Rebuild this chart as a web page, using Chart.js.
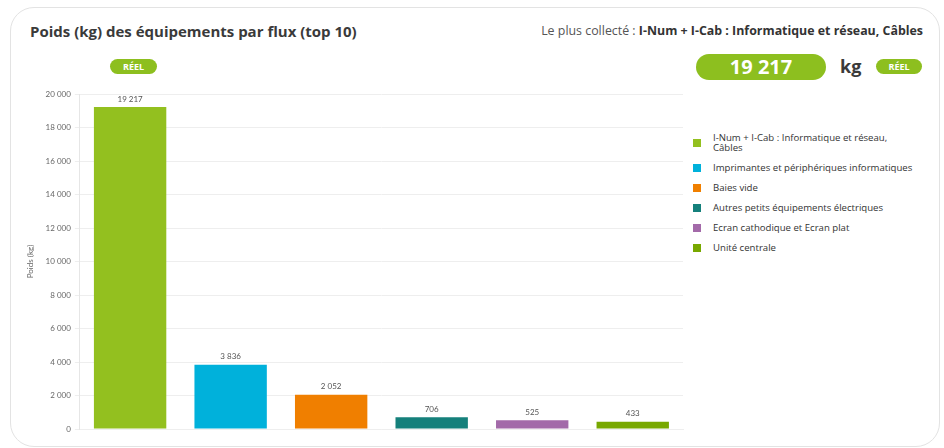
<!DOCTYPE html>
<html lang="fr">
<head>
<meta charset="utf-8">
<script src="https://cdn.jsdelivr.net/npm/chart.js@4.4.1/dist/chart.umd.min.js"></script>
<style>
  html, body { margin: 0; padding: 0; background: #ffffff; width: 944px; height: 448px; overflow: hidden; font-family: "Open Sans", "Lato", sans-serif; }
  #card { position: absolute; left: 10px; top: 7px; width: 930px; height: 440px; border: 1px solid #e3e3e3; border-radius: 24px; box-sizing: border-box; background: #fff; }
  #title { position: absolute; left: 30px; top: 21px; font-size: 15px; font-weight: 700; color: #3a3a3a; }
  #most { position: absolute; right: 21px; top: 22px; font-size: 12.4px; color: #555; }
  #most b { color: #333; font-weight: 700; }
  .pill { position: absolute; background: #8dbf1f; color: #fff; border-radius: 10px; font-weight: 700; font-size: 9px; text-align: center; }
  #pillL { left: 110px; top: 59px; width: 47px; height: 15px; line-height: 15px; }
  #pillR { left: 876px; top: 59px; width: 46px; height: 15px; line-height: 15px; }
  #big { left: 696px; top: 54px; width: 130px; height: 26px; line-height: 26px; font-size: 20px; border-radius: 14px; }
  #kg { position: absolute; left: 840px; top: 54px; font-size: 18px; font-weight: 700; color: #3a3a3a; }
  #legend { position: absolute; left: 692px; top: 133px; width: 240px; }
  .li { position: relative; padding-left: 21px; font-size: 9.6px; color: #333; line-height: 10px; margin-bottom: 10px; }
  .li span.sw { position: absolute; left: 1px; top: 50%; margin-top: -4px; width: 8px; height: 8px; }
  #cv { position: absolute; left: 0; top: 0; }
</style>
</head>
<body>
<div id="card"></div>
<div id="title">Poids (kg) des équipements par flux (top 10)</div>
<div id="most">Le plus collecté : <b>I-Num + I-Cab : Informatique et réseau, Câbles</b></div>
<div class="pill" id="pillL">RÉEL</div>
<div class="pill" id="big">19 217</div>
<div id="kg">kg</div>
<div class="pill" id="pillR">RÉEL</div>
<div id="legend"></div>
<canvas id="cv" width="944" height="448"></canvas>
<script>
const categories = [
  "I-Num + I-Cab : Informatique et réseau, Câbles",
  "Imprimantes et périphériques informatiques",
  "Baies vide",
  "Autres petits équipements électriques",
  "Ecran cathodique et Ecran plat",
  "Unité centrale"
];
const weights = [19217, 3836, 2052, 706, 525, 433];
const colors = ["#93c01f", "#00b1db", "#f07f00", "#15807b", "#a36aa9", "#78a800"];
const yTicks = [0, 2000, 4000, 6000, 8000, 10000, 12000, 14000, 16000, 18000, 20000];

function fmt(v) {
  return String(v).replace(/\B(?=(\d{3})+(?!\d))/g, " ");
}

// HTML legend built from the arrays
const lg = document.getElementById('legend');
categories.forEach((c, i) => {
  const d = document.createElement('div');
  d.className = 'li';
  const label = i === 0 ? "I-Num + I-Cab : Informatique et réseau,<br>Câbles" : c;
  d.innerHTML = '<span class="sw" style="background:' + colors[i] + '"></span>' + label;
  lg.appendChild(d);
});

const valueLabels = {
  id: 'valueLabels',
  afterDatasetsDraw(chart) {
    const ctx = chart.ctx;
    const meta = chart.getDatasetMeta(0);
    ctx.save();
    ctx.font = '8px Lato, "Open Sans", sans-serif';
    ctx.fillStyle = '#555';
    ctx.textAlign = 'center';
    ctx.textBaseline = 'bottom';
    meta.data.forEach((bar, i) => {
      ctx.fillText(fmt(weights[i]), bar.x, bar.y - 4);
    });
    ctx.restore();
  }
};

new Chart(document.getElementById('cv'), {
  type: 'bar',
  data: {
    labels: categories,
    datasets: [{
      data: weights,
      backgroundColor: colors,
      borderWidth: 0
    }]
  },
  options: {
    responsive: false,
    animation: false,
    layout: { padding: { left: 20, right: 261, top: 94, bottom: 11 } },
    plugins: { legend: { display: false }, tooltip: { enabled: false } },
    scales: {
      x: {
        ticks: { display: false },
        grid: { display: false },
        border: { color: '#eeeeee' }
      },
      y: {
        min: 0, max: 20000,
        afterBuildTicks(scale) { scale.ticks = yTicks.map(v => ({ value: v })); },
        ticks: {
          font: { size: 8, family: 'Lato, "Open Sans", sans-serif' },
          color: '#666',
          padding: 4,
          callback: (v) => fmt(v)
        },
        grid: { color: '#eeeeee', tickLength: 5 },
        border: { color: '#e6e6e6' },
        title: {
          display: true,
          text: 'Poids (kg)',
          font: { size: 8, family: 'Lato, "Open Sans", sans-serif' },
          color: '#666',
          padding: 6
        }
      }
    }
  },
  plugins: [valueLabels]
});
</script>
</body>
</html>
